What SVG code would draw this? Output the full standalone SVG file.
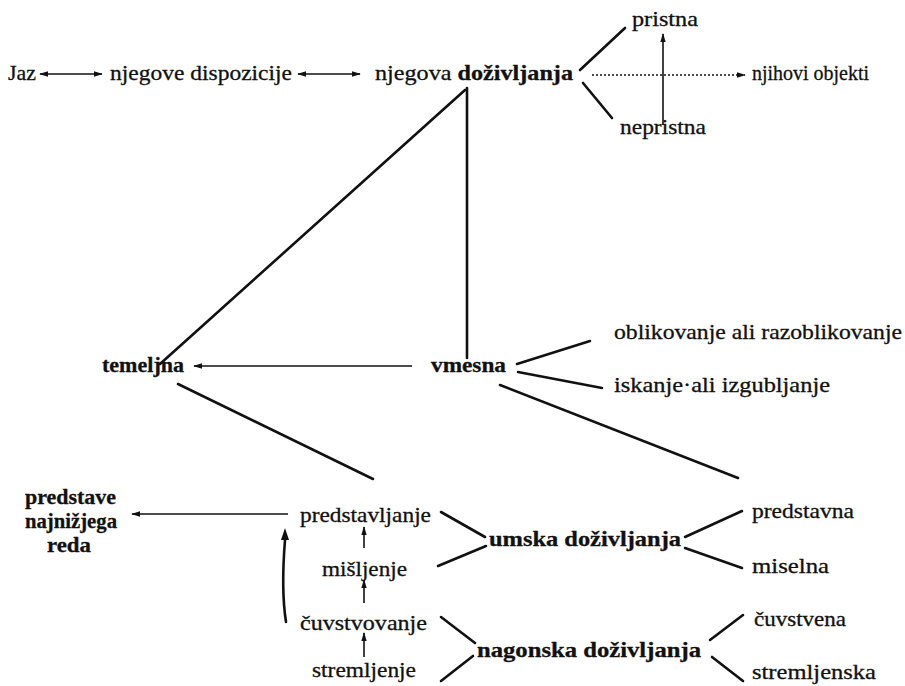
<svg xmlns="http://www.w3.org/2000/svg" width="905" height="686" viewBox="0 0 905 686">
<style>
text{font-family:"Liberation Serif","DejaVu Serif",serif;font-size:21px;fill:#111;dominant-baseline:central;stroke:#111;stroke-width:0.3}
.b{font-weight:bold}
.ln{stroke:#111;stroke-width:2.6;fill:none;stroke-linecap:round}
.ar{stroke:#111;stroke-width:1.6;fill:none}
.dot{stroke:#111;stroke-width:1.4;fill:none;stroke-dasharray:2 2}
</style>
<defs>
<marker id="ah" viewBox="0 0 10 6" refX="9" refY="3" markerWidth="9" markerHeight="5.5" orient="auto-start-reverse" markerUnits="userSpaceOnUse">
<path d="M0,0 L10,3 L0,6 Z" fill="#111"/>
</marker>
</defs>
<rect width="905" height="686" fill="#fff"/>
<g id="connectors">
<line class="ar" x1="40" y1="74" x2="102" y2="74" marker-start="url(#ah)" marker-end="url(#ah)"/>
<line class="ar" x1="298" y1="74" x2="360" y2="74" marker-start="url(#ah)" marker-end="url(#ah)"/>
<line class="ln" x1="580" y1="70" x2="625" y2="28"/>
<line class="ln" x1="583" y1="83" x2="612" y2="118"/>
<line class="dot" x1="592" y1="75" x2="745" y2="75" marker-end="url(#ah)"/>
<line class="ar" x1="663" y1="125" x2="663" y2="34" stroke-width="2" marker-end="url(#ah)"/>
<line class="ln" x1="467" y1="88" x2="467" y2="358"/>
<line class="ln" x1="465" y1="90" x2="160" y2="364"/>
<line class="ar" x1="412" y1="366" x2="194" y2="366" stroke-width="2.2" marker-end="url(#ah)"/>
<line class="ln" x1="517" y1="364" x2="590" y2="341"/>
<line class="ln" x1="518" y1="372" x2="602" y2="388"/>
<line class="ln" x1="500" y1="385" x2="738" y2="478"/>
<line class="ln" x1="178" y1="384" x2="373" y2="479"/>
<line class="ar" x1="288" y1="514" x2="132" y2="514" stroke-width="2.2" marker-end="url(#ah)"/>
<path class="ln" d="M286,622 Q281,590 285,540"/>
<path d="M281,540 L285,528 L289,540 Z" fill="#111"/>
<line class="ar" x1="364" y1="548" x2="364" y2="527" stroke-width="2" marker-end="url(#ah)"/>
<line class="ar" x1="364" y1="603" x2="364" y2="580" stroke-width="2" marker-end="url(#ah)"/>
<line class="ar" x1="364" y1="657" x2="364" y2="633" stroke-width="2" marker-end="url(#ah)"/>
<line class="ln" x1="441" y1="512" x2="485" y2="537"/>
<line class="ln" x1="438" y1="566" x2="486" y2="546"/>
<line class="ln" x1="685" y1="537" x2="742" y2="511"/>
<line class="ln" x1="685" y1="548" x2="742" y2="568"/>
<line class="ln" x1="441" y1="617" x2="475" y2="643"/>
<line class="ln" x1="441" y1="681" x2="473" y2="656"/>
<line class="ln" x1="710" y1="640" x2="743" y2="615"/>
<line class="ln" x1="712" y1="657" x2="743" y2="681"/>
</g>
<g id="n-jaz"><text x="8" y="73" textLength="28" lengthAdjust="spacingAndGlyphs">Jaz</text></g>
<g id="n-dispozicije"><text x="110" y="73" textLength="182" lengthAdjust="spacingAndGlyphs">njegove dispozicije</text></g>
<g id="n-dozivljanja"><text x="375" y="73" textLength="198" lengthAdjust="spacingAndGlyphs">njegova <tspan class="b">doživljanja</tspan></text></g>
<g id="n-pristna"><text x="632" y="19" textLength="66" lengthAdjust="spacingAndGlyphs">pristna</text></g>
<g id="n-nepristna"><text x="620" y="127" textLength="86" lengthAdjust="spacingAndGlyphs">nepristna</text></g>
<g id="n-objekti"><text x="752" y="73" textLength="117" lengthAdjust="spacingAndGlyphs">njihovi objekti</text></g>
<g id="n-temeljna"><text class="b" x="102" y="365" textLength="82" lengthAdjust="spacingAndGlyphs">temeljna</text></g>
<g id="n-vmesna"><text class="b" x="431" y="365" textLength="75" lengthAdjust="spacingAndGlyphs">vmesna</text></g>
<g id="n-oblikovanje"><text x="614" y="332" textLength="288" lengthAdjust="spacingAndGlyphs">oblikovanje ali razoblikovanje</text></g>
<g id="n-iskanje"><text x="614" y="385" textLength="216" lengthAdjust="spacingAndGlyphs">iskanje·ali izgubljanje</text></g>
<g id="n-predstave"><text class="b" x="25" y="497" textLength="91" lengthAdjust="spacingAndGlyphs">predstave</text><text class="b" x="25" y="521" textLength="92" lengthAdjust="spacingAndGlyphs">najnižjega</text><text class="b" x="47" y="545" textLength="44" lengthAdjust="spacingAndGlyphs">reda</text></g>
<g id="n-predstavljanje"><text x="300" y="515" textLength="131" lengthAdjust="spacingAndGlyphs">predstavljanje</text></g>
<g id="n-misljenje"><text x="322" y="569" textLength="85" lengthAdjust="spacingAndGlyphs">mišljenje</text></g>
<g id="n-cuvstvovanje"><text x="300" y="623" textLength="127" lengthAdjust="spacingAndGlyphs">čuvstvovanje</text></g>
<g id="n-stremljenje"><text x="312" y="670" textLength="104" lengthAdjust="spacingAndGlyphs">stremljenje</text></g>
<g id="n-umska"><text class="b" x="489" y="539" textLength="192" lengthAdjust="spacingAndGlyphs">umska doživljanja</text></g>
<g id="n-nagonska"><text class="b" x="477" y="650" textLength="224" lengthAdjust="spacingAndGlyphs">nagonska doživljanja</text></g>
<g id="n-predstavna"><text x="752" y="511" textLength="102" lengthAdjust="spacingAndGlyphs">predstavna</text></g>
<g id="n-miselna"><text x="752" y="566" textLength="77" lengthAdjust="spacingAndGlyphs">miselna</text></g>
<g id="n-cuvstvena"><text x="754" y="619" textLength="92" lengthAdjust="spacingAndGlyphs">čuvstvena</text></g>
<g id="n-stremljenska"><text x="752" y="672" textLength="124" lengthAdjust="spacingAndGlyphs">stremljenska</text></g>
</svg>
